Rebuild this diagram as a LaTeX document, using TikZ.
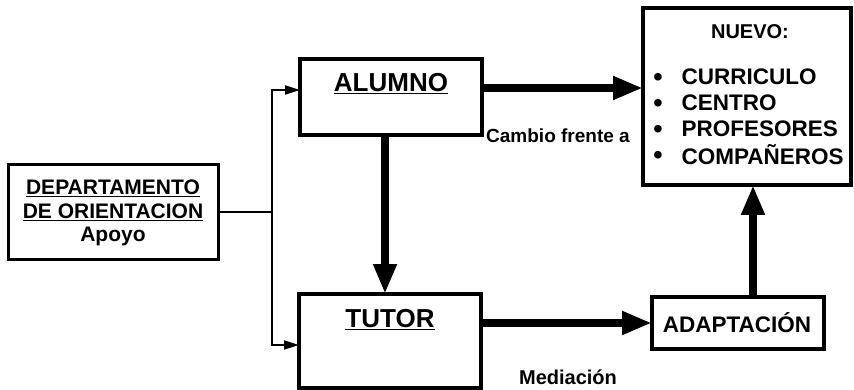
\documentclass[tikz,border=0pt]{standalone}
\usepackage{fontspec}
\setmainfont{Liberation Sans}
\usetikzlibrary{positioning, arrows.meta}

\begin{document}
\begin{tikzpicture}[x=1pt, y=-1pt,
                    box/.style={draw, line width=4pt, inner sep=0pt, outer sep=0pt},
                    connection/.style={-{Triangle[length=30pt, width=22pt]}, line width=8pt},
                    feed/.style={-{Triangle[length=15pt, width=9pt]}, line width=2pt},
                    every node/.style={font=\bfseries}]
  \useasboundingbox (0,0) rectangle (854,390);

  % Define boxes
  \node[box, line width=3pt, minimum width=210pt, minimum height=94pt] (dept) at (113,212) {};
  \node[box, minimum width=182pt, minimum height=76pt] (alumno) at (391,97) {};
  \node[box, minimum width=182pt, minimum height=94pt] (tutor) at (390,341) {};
  \node[box, line width=3.5pt, minimum width=208pt, minimum height=177pt] (nuevo) at (747,96.5) {};
  \node[box, line width=3.5pt, minimum width=172pt, minimum height=52pt] (adapt) at (738,323) {};

  % Texts in boxes
  \node[align=center, font=\bfseries\fontsize{21}{23.5}\selectfont] (depttxt) at (113,213)
    {\underline{DEPARTAMENTO}\\\underline{DE ORIENTACION}\\Apoyo};
  \node[font=\bfseries\fontsize{26}{28}\selectfont] (alumnotxt) at (391,84) {\underline{ALUMNO}};
  \node[font=\bfseries\fontsize{26}{28}\selectfont] (tutortxt) at (390,320) {\underline{TUTOR}};
  \node[font=\bfseries\fontsize{22.5}{24}\selectfont] (adapttxt) at (737,323) {ADAPTACIÓN};
  \node[font=\bfseries\fontsize{20}{22}\selectfont] (nuevotxt) at (750,32) {NUEVO:};
  \node[font=\bfseries\fontsize{22.5}{24}\selectfont, anchor=west] (it1) at (678,77) {CURRICULO};
  \node[font=\bfseries\fontsize{22.5}{24}\selectfont, anchor=west] (it2) at (678,103) {CENTRO};
  \node[font=\bfseries\fontsize{22.5}{24}\selectfont, anchor=west] (it3) at (678,129) {PROFESORES};
  \node[font=\bfseries\fontsize{22.5}{24}\selectfont, anchor=west] (it4) at (678,155) {COMPAÑEROS};
  \node[font=\fontsize{28}{30}\selectfont] (b1) at (658,80) {•};
  \node[font=\fontsize{28}{30}\selectfont] (b2) at (658,106) {•};
  \node[font=\fontsize{28}{30}\selectfont] (b3) at (658,132) {•};
  \node[font=\fontsize{28}{30}\selectfont] (b4) at (658,158) {•};

  % Connections
  \coordinate (split) at (272,212);
  \draw[line width=2pt] (dept.east) -- (split);
  \draw[feed] (split) |- ([yshift=7pt]alumno.west);
  \draw[feed] (split) |- ([yshift=-4pt]tutor.west);
  \draw[connection] ([yshift=9pt]alumno.east) -- ([yshift=9pt]alumno.east -| nuevo.west);
  \draw[connection] ([xshift=-6pt]alumno.south) -- ([xshift=-6pt]alumno.south |- tutor.north);
  \draw[connection] (tutor.east |- adapt.west) -- (adapt.west);
  \draw[connection] ([xshift=15pt]adapt.north) -- ([xshift=15pt]adapt.north |- nuevo.south);

  \node[font=\bfseries\fontsize{19}{21}\selectfont] (cambio) at (558,136) {Cambio frente a};
  \node[font=\bfseries\fontsize{20}{22}\selectfont] (mediacion) at (568,377) {Mediación};

\end{tikzpicture}
\end{document}
